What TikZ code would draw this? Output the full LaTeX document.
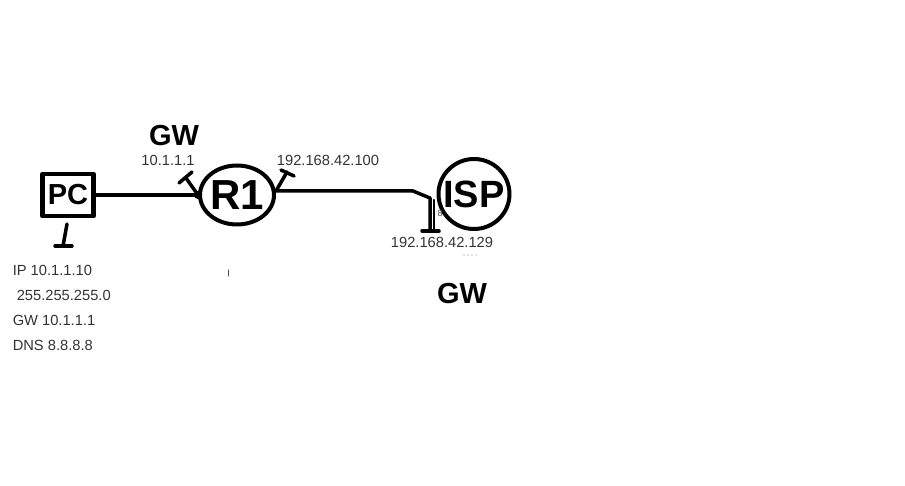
\documentclass[tikz,border=0pt]{standalone}
\usepackage{fontspec}
\setmainfont{Liberation Sans}
\usetikzlibrary{positioning,shapes.geometric}

\begin{document}
\begin{tikzpicture}[x=1pt, y=-1pt, line width=3.5pt, line cap=round, line join=round,
  hand/.style={font=\fontsize{29}{29}\selectfont\bfseries, inner sep=0pt},
  pcbox/.style={rectangle,draw,line width=4.5pt,minimum width=51pt,minimum height=42pt,inner sep=0pt},
  router/.style={ellipse,draw,line width=4pt,inner sep=0pt},
  addr/.style={font=\fontsize{14.7}{17}\selectfont, text=black!80, inner sep=0pt}]
  \useasboundingbox (0,0) rectangle (905,486);

  \node[pcbox, label={[hand]center:PC}] (pc) at (68,195) {};
  \node[router, minimum width=74pt, minimum height=59pt, label={[hand,font=\fontsize{42}{42}\selectfont\bfseries]center:R1}] (r1) at (237,195) {};
  \node[router, minimum width=71pt, minimum height=70pt, label={[hand,font=\fontsize{38}{38}\selectfont\bfseries]center:ISP}] (isp) at (474,194) {};

  % links
  \draw (pc) -- (r1);
  \coordinate (kink) at (413,191);
  \coordinate (drop) at (430,198);
  \coordinate (ispfoot) at (430,231);
  \draw (r1.east |- kink) -- (kink) -- (drop) -- (ispfoot);
  \draw[line width=2.5pt] (434,200) -- (434,229);
  \draw ([xshift=-8pt]ispfoot) -- ([xshift=9pt]ispfoot);

  % pc cable end
  \coordinate (pcstem) at (67,224);
  \coordinate (pcfoot) at (63,246);
  \draw (pcstem) -- (pcfoot);
  \draw ([xshift=-8pt]pcfoot) -- ([xshift=9pt]pcfoot);

  % interface ticks on R1
  \coordinate (gwtip) at (186,178);
  \coordinate (wantip) at (287,172);
  \fill (r1.west) circle (4pt);
  \draw (r1.west) -- (gwtip);
  \draw (179,183) -- (192,172);
  \draw (r1.east |- kink) -- (wantip);
  \draw (281,170) -- (294,176);

  % labels
  \node[hand] (gwl) at (174,136) {GW};
  \node[addr] (gwip) at (168,160) {10.1.1.1};
  \node[addr] (wanip) at (328,160) {192.168.42.100};
  \node[addr] (ispip) at (442,242) {192.168.42.129};
  \foreach \dx in {0,4,8,12}
    \fill[black!50] (464+\dx,255) circle (0.6pt);
  \node[font=\fontsize{9}{9}\selectfont, text=black!70, inner sep=0pt] (eight) at (440,213) {8};
  \node[hand] (gwr) at (462,294) {GW};
  \draw[line width=1pt, black!70] (228,270) -- (228,276);

  \node[addr, anchor=base west] (ipl) at (11,276) {IP 10.1.1.10};
  \node[addr, anchor=base west] (maskl) at (15,301) {255.255.255.0};
  \node[addr, anchor=base west] (gwline) at (11,326) {GW 10.1.1.1};
  \node[addr, anchor=base west] (dnsl) at (11,351) {DNS 8.8.8.8};
\end{tikzpicture}
\end{document}
